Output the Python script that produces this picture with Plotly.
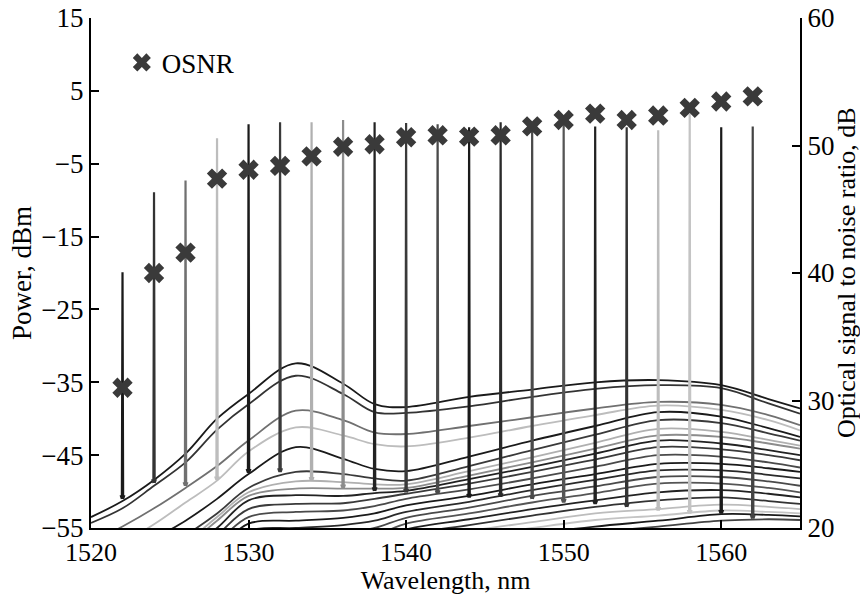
import plotly.graph_objects as go

# ---------------- data ----------------
PEAK_WL = [1522, 1524, 1526, 1528, 1530, 1532, 1534, 1536, 1538, 1540, 1542,
           1544, 1546, 1548, 1550, 1552, 1554, 1556, 1558, 1560, 1562]
PEAK_TOP = [-19.9, -8.9, -7.3, -1.5, 0.4, 0.7, 0.7, 1.0, 0.7, 0.6, 0.4,
            0.0, 0.7, 0.3, 0.3, 0.1, 0.0, -0.4, 1.9, 0.0, 0.1]
PEAK_FOOT = [-51.0, -48.8, -49.2, -48.4, -47.4, -47.3, -48.5, -49.5, -49.9, -50.1, -50.3,
             -50.8, -50.7, -51.0, -51.5, -51.7, -52.1, -52.6, -53.0, -53.0, -53.7]
OSNR = [31.0, 40.0, 41.6, 47.4, 48.1, 48.4, 49.15, 49.9, 50.1, 50.65, 50.8,
        50.7, 50.8, 51.5, 52.0, 52.5, 52.0, 52.35, 52.95, 53.45, 53.85]
TRACE_COLORS = ['#1a1a1a', '#333333', '#707070', '#bdbdbd', '#1a1a1a', '#3a3a3a', '#b0b0b0',
                '#8c8c8c', '#222222', '#3a3a3a', '#4a4a4a', '#1a1a1a', '#2a2a2a', '#4a4a4a',
                '#555555', '#222222', '#333333', '#bdbdbd', '#c4c4c4', '#1a1a1a', '#444444']

# ASE background of each spectrum, sampled at BG_WL (dBm)
BG_WL = [1520, 1522, 1524, 1526, 1528, 1530, 1533, 1536, 1538, 1540, 1544, 1548, 1552, 1556, 1560, 1563, 1565]
BG_LEVELS = [
    [-53.5, -51.3, -48.4, -44.8, -40.0, -36.6, -32.4, -35.2, -38.0, -38.4, -37.0, -36.0, -35.0, -34.7, -35.4, -37.3, -38.6],
    [-54.3, -52.3, -49.2, -46.0, -41.5, -38.0, -34.1, -36.6, -39.1, -39.2, -38.3, -37.0, -35.9, -35.4, -35.8, -37.9, -39.3],
    [-57.0, -54.8, -52.3, -49.5, -46.5, -43.0, -38.9, -40.2, -41.9, -42.1, -41.0, -39.8, -38.6, -37.7, -38.1, -39.5, -40.9],
    [-59.0, -57.0, -54.5, -51.5, -48.5, -44.5, -41.2, -42.3, -43.5, -43.8, -42.6, -41.0, -39.5, -38.2, -38.8, -40.2, -41.6],
    [-61.0, -59.0, -56.5, -54.0, -51.0, -47.6, -43.9, -45.5, -46.9, -47.2, -45.2, -43.0, -41.0, -39.1, -39.7, -41.3, -42.5],
    [-63.0, -61.0, -58.5, -56.0, -53.0, -49.5, -47.3, -47.6, -48.2, -48.5, -46.5, -44.3, -42.2, -40.2, -40.6, -42.0, -43.0],
    [-64.0, -62.0, -59.5, -57.0, -53.5, -50.1, -48.6, -48.7, -49.0, -49.0, -47.2, -45.3, -43.3, -41.4, -41.8, -42.9, -43.7],
    [-64.5, -62.5, -60.0, -57.5, -54.0, -50.6, -49.6, -49.6, -49.6, -49.5, -47.8, -46.0, -44.1, -42.3, -42.5, -43.4, -44.1],
    [-65.0, -63.0, -60.5, -58.0, -55.0, -51.2, -50.5, -50.6, -50.2, -49.9, -48.3, -46.6, -44.8, -43.0, -43.4, -44.3, -45.0],
    [-66.0, -64.0, -62.0, -59.5, -56.0, -52.4, -51.7, -51.6, -51.0, -50.3, -48.9, -47.3, -45.6, -43.9, -44.2, -45.0, -45.7],
    [-67.0, -65.0, -63.0, -60.5, -57.0, -53.5, -52.8, -52.6, -52.0, -51.0, -49.7, -48.2, -46.6, -45.0, -45.2, -46.0, -46.7],
    [-68.0, -66.0, -64.0, -61.5, -58.0, -54.4, -54.0, -53.6, -53.0, -51.9, -50.6, -49.0, -47.6, -46.2, -46.2, -46.8, -47.3],
    [-69.0, -67.0, -65.0, -62.5, -59.0, -55.4, -55.0, -54.6, -54.0, -52.8, -51.4, -49.8, -48.4, -47.1, -47.1, -47.7, -48.2],
    [-70.0, -68.0, -66.0, -63.5, -60.0, -56.3, -56.0, -55.6, -55.0, -53.6, -52.2, -50.6, -49.3, -48.0, -48.0, -48.6, -49.2],
    [-71.0, -69.0, -67.0, -64.5, -61.0, -57.2, -57.0, -56.6, -56.0, -54.4, -53.0, -51.5, -50.2, -48.9, -48.9, -49.5, -50.1],
    [-72.0, -70.0, -68.0, -65.5, -62.0, -58.2, -58.0, -57.6, -57.0, -55.2, -53.8, -52.4, -51.2, -50.1, -49.8, -50.3, -50.8],
    [-73.0, -71.0, -69.0, -66.5, -63.0, -59.0, -59.0, -58.5, -57.8, -56.0, -54.6, -53.3, -52.1, -51.2, -50.8, -51.3, -51.7],
    [-74.0, -72.0, -70.0, -67.5, -64.0, -60.0, -60.0, -59.4, -58.6, -56.8, -55.4, -54.2, -53.0, -52.4, -51.8, -52.1, -52.4],
    [-75.0, -73.0, -71.0, -68.5, -65.0, -61.0, -61.0, -60.2, -59.4, -57.6, -56.2, -55.0, -53.9, -53.3, -52.6, -52.8, -53.0],
    [-76.0, -74.0, -72.0, -69.5, -66.0, -62.0, -62.0, -61.0, -60.2, -58.4, -57.0, -55.8, -54.8, -54.0, -53.1, -53.2, -53.4],
    [-77.0, -75.0, -73.0, -70.5, -67.0, -63.0, -63.0, -62.0, -61.0, -59.2, -57.8, -56.5, -55.6, -54.8, -54.0, -53.8, -53.9],
]

# narrow lasing-line profile: wavelength offset (nm) and rise above foot (None = top)
PEAK_DX = [-0.12, -0.04, 0.0, 0.04, 0.12]
PEAK_RISE = [0.5, 0.0, None, 0.0, 0.5]

X_TICKS = [1520, 1530, 1540, 1550, 1560]

FONT = "Liberation Serif"
W, H = 860, 595
L, R, T, B = 91, 60, 17.5, 67.3

fig = go.Figure()

for k, wl in enumerate(PEAK_WL):
    col = TRACE_COLORS[k]
    fig.add_trace(go.Scatter(
        x=BG_WL, y=BG_LEVELS[k], mode="lines",
        line=dict(color=col, width=1.8, shape="spline", smoothing=1.0),
        showlegend=False, hoverinfo="skip"))
    px = [wl + d for d in PEAK_DX]
    py = [PEAK_TOP[k] if r is None else PEAK_FOOT[k] + r for r in PEAK_RISE]
    fig.add_trace(go.Scatter(
        x=px, y=py, mode="lines",
        line=dict(color=col, width=2.2),
        showlegend=False, hoverinfo="skip"))

fig.add_trace(go.Scatter(
    x=PEAK_WL, y=OSNR, mode="markers", name="OSNR", yaxis="y2",
    marker=dict(symbol="x", size=18, color="#3a3a3a", line=dict(width=0)),
    showlegend=True))

axis_common = dict(
    showline=True, linecolor="black", linewidth=2,
    ticks="inside", ticklen=8, tickwidth=2, tickcolor="black",
    showgrid=False, zeroline=False, automargin=False,
    ticklabeloverflow="allow",
)
tick_font = dict(family=FONT, size=27, color="black")

fig.update_layout(
    width=W, height=H,
    margin=dict(l=L, r=R, t=T, b=B),
    paper_bgcolor="white", plot_bgcolor="white",
    font=dict(family=FONT, color="black"),
    xaxis=dict(range=[1520, 1565], tickvals=X_TICKS, ticklabelstandoff=0,
               tickfont=dict(family=FONT, size=26, color="black"),
               title=dict(text="Wavelength, nm", font=dict(family=FONT, size=26), standoff=6),
               **axis_common),
    yaxis=dict(range=[-55, 15], tick0=-55, dtick=10, tickfont=tick_font,
               title=dict(text="Power, dBm", font=dict(family=FONT, size=27), standoff=2),
               **axis_common),
    yaxis2=dict(range=[20, 60], tick0=20, dtick=10, overlaying="y", side="right",
                tickfont=tick_font, **axis_common),
    legend=dict(x=0.0435, y=0.912, xanchor="left", yanchor="middle",
                font=dict(family=FONT, size=27, color="black"),
                bgcolor="rgba(0,0,0,0)", borderwidth=0),
    annotations=[dict(
        text="Optical signal to noise ratio, dB", textangle=-90,
        xref="paper", yref="paper", x=1.0649, y=0.5,
        xanchor="center", yanchor="middle", showarrow=False,
        font=dict(family=FONT, size=26, color="black"))],
)

# let the 860x595 figure fill the window exactly (no default body margin)
fig.write_html("out.html", config={"displayModeBar": False},
               post_script="document.body.style.margin='0px';")
